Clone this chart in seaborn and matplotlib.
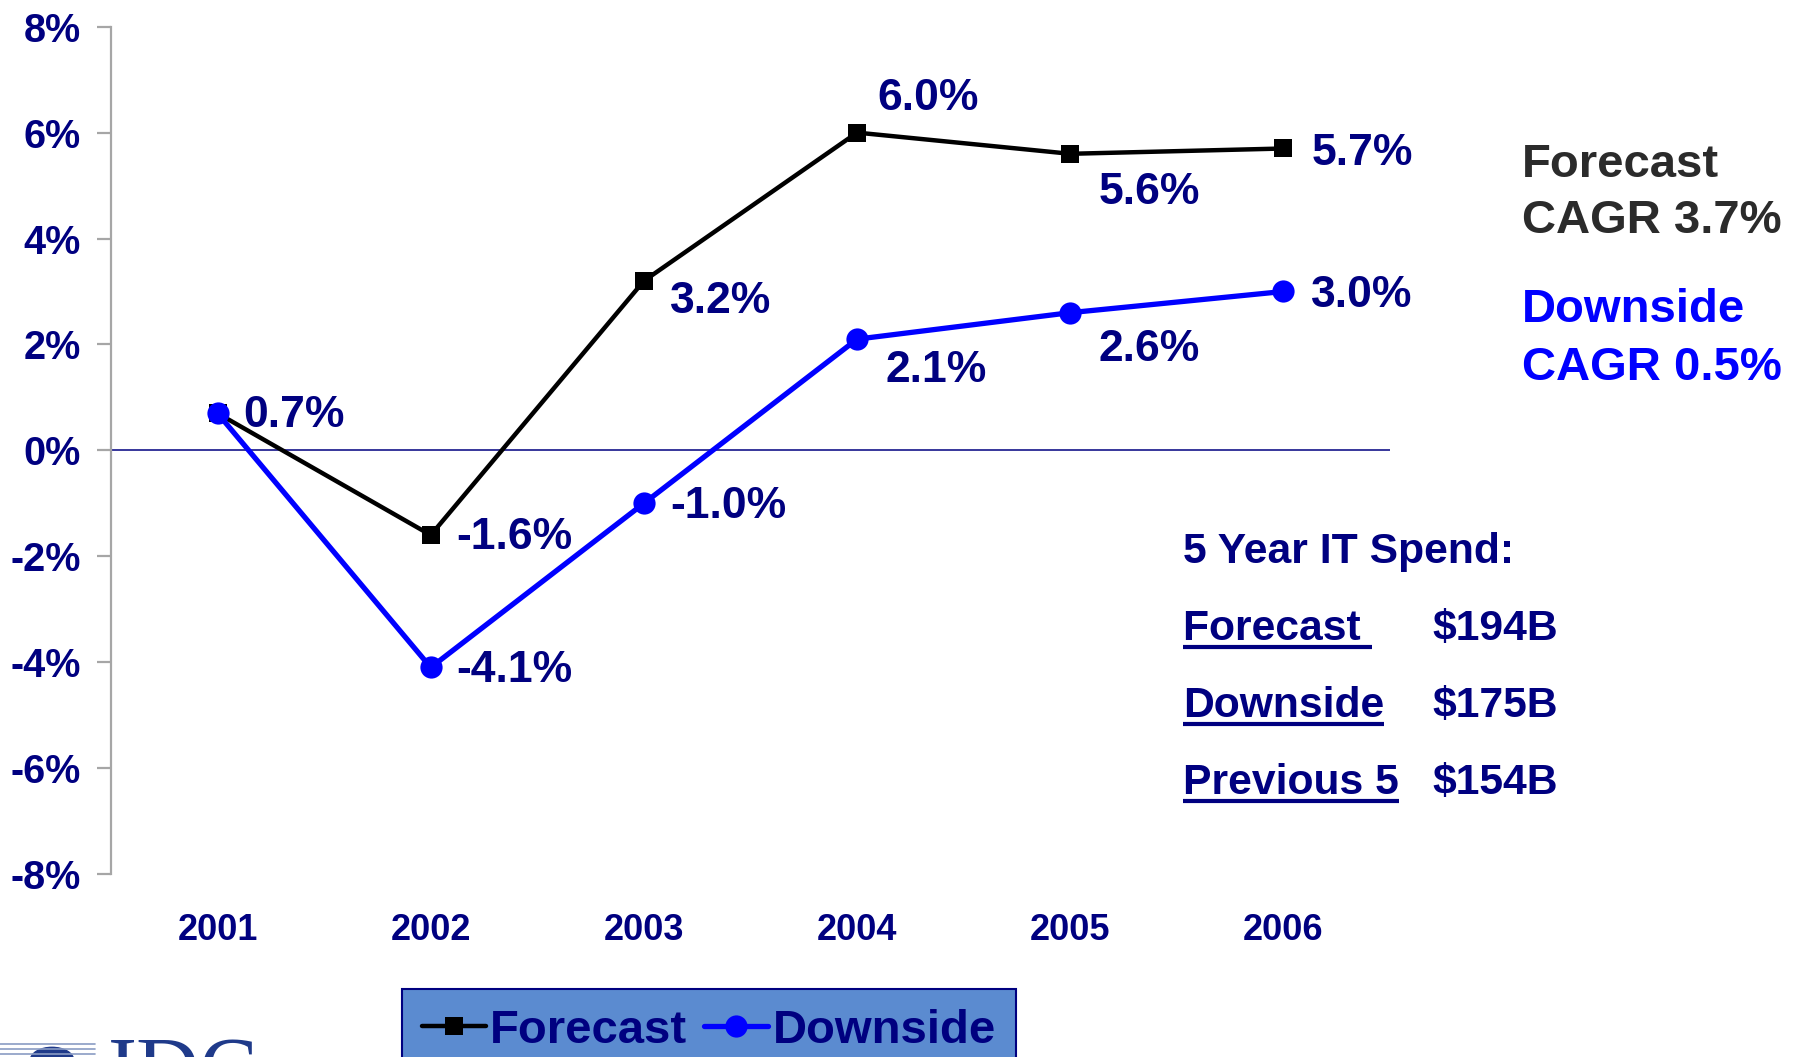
import matplotlib
matplotlib.use("Agg")
import matplotlib.pyplot as plt
from matplotlib.lines import Line2D
from matplotlib.patches import Wedge
import seaborn as sns
import pandas as pd

# ---- data -------------------------------------------------------------
years = ["2001", "2002", "2003", "2004", "2005", "2006"]
forecast = [0.7, -1.6, 3.2, 6.0, 5.6, 5.7]
downside = [0.7, -4.1, -1.0, 2.1, 2.6, 3.0]
yticks = [-8, -6, -4, -2, 0, 2, 4, 6, 8]

cagr_forecast = 3.7
cagr_downside = 0.5
spend_labels = ["Forecast ", "Downside", "Previous 5"]
spend_values = ["$194B", "$175B", "$154B"]

# label offsets in pixels (dx, dy) relative to each point
fc_offsets = [None, (26, -2), (26, -21), (20, 34), (28, -39), (28, -5)]
dn_offsets = [(26, -2), (26, -3), (26, -3), (28, -31), (28, -37), (28, -4)]

# ---- style ------------------------------------------------------------
W, H, DPI = 1799, 1057, 100
NAVY = "#000080"
BLUE = "#0000ff"

sns.set_style("white")
plt.rcParams["font.family"] = ["Liberation Sans", "DejaVu Sans"]
plt.rcParams["font.weight"] = "bold"


def fx(px):
    return px / W


def fy(py):
    return 1 - py / H


fig = plt.figure(figsize=(W / DPI, H / DPI), dpi=DPI)
ax = fig.add_axes([fx(111), fy(874), fx(1390) - fx(111), fy(26.7) - fy(874)])

df = pd.DataFrame({"year": years, "Forecast": forecast, "Downside": downside})

sns.lineplot(data=df, x="year", y="Forecast", ax=ax, color="black",
             marker="s", markersize=13.5, markeredgewidth=0, linewidth=3.2,
             label="Forecast", sort=False)
sns.lineplot(data=df, x="year", y="Downside", ax=ax, color=BLUE,
             marker="o", markersize=16, markeredgewidth=0, linewidth=3.8,
             label="Downside", sort=False)

ax.axhline(0, color=NAVY, lw=1.1, zorder=1)

ax.set_xlim(-0.5, len(years) - 0.5)
ax.set_ylim(-8, 8)
ax.set_yticks(yticks)
ax.set_yticklabels([f"{t}%" for t in yticks])
ax.set_xlabel("")
ax.set_ylabel("")

for side in ["top", "right", "bottom"]:
    ax.spines[side].set_visible(False)
ax.spines["left"].set_color("#a6a6a6")
ax.spines["left"].set_linewidth(1.6)

ax.tick_params(axis="y", which="both", length=10, width=1.6, color="#a6a6a6",
               pad=12, labelsize=28.5, labelcolor=NAVY, left=True, direction="out")
ax.tick_params(axis="x", length=0, pad=28, labelsize=26, labelcolor=NAVY)
for lab in ax.get_xticklabels() + ax.get_yticklabels():
    lab.set_fontweight("bold")

# value labels
for i, (v, off) in enumerate(zip(forecast, fc_offsets)):
    if off is None:
        continue
    ax.annotate(f"{v:.1f}%", xy=(i, v), xytext=off, textcoords="offset pixels",
                ha="left", va="center", fontsize=32, color=NAVY,
                fontweight="bold", zorder=5)
for i, (v, off) in enumerate(zip(downside, dn_offsets)):
    ax.annotate(f"{v:.1f}%", xy=(i, v), xytext=off, textcoords="offset pixels",
                ha="left", va="center", fontsize=32, color=NAVY,
                fontweight="bold", zorder=5)

# legend at the bottom
handles, labels = ax.get_legend_handles_labels()
ax.get_legend().remove()
leg = fig.legend(handles, labels, loc="upper left",
                 bbox_to_anchor=(fx(402), fy(989)), ncol=2,
                 fontsize=34, frameon=True, fancybox=False,
                 borderpad=0.42, borderaxespad=0, handlelength=1.35,
                 handletextpad=0.1, columnspacing=0.35)
frame = leg.get_frame()
frame.set_facecolor("#5b8bd0")
frame.set_edgecolor(NAVY)
frame.set_linewidth(1.5)
frame.set_alpha(1)
for t in leg.get_texts():
    t.set_color(NAVY)
    t.set_fontweight("bold")

# CAGR notes
fig.text(fx(1522), fy(177), "Forecast", fontsize=34, color="#2b2b2b",
         fontweight="bold", va="baseline", ha="left")
fig.text(fx(1522), fy(233), f"CAGR {cagr_forecast:.1f}%", fontsize=34,
         color="#2b2b2b", fontweight="bold", va="baseline", ha="left")
fig.text(fx(1522), fy(322), "Downside", fontsize=34, color=BLUE,
         fontweight="bold", va="baseline", ha="left")
fig.text(fx(1522), fy(380), f"CAGR {cagr_downside:.1f}%", fontsize=34,
         color=BLUE, fontweight="bold", va="baseline", ha="left")

# 5-year spend block
fig.text(fx(1183), fy(563), "5 Year IT Spend:", fontsize=30.7, color=NAVY,
         fontweight="bold", va="baseline", ha="left")
spend_texts = []
for k, (lab, val) in enumerate(zip(spend_labels, spend_values)):
    base = 640 + 77 * k
    t = fig.text(fx(1183), fy(base), lab, fontsize=30.7, color=NAVY,
                 fontweight="bold", va="baseline", ha="left")
    spend_texts.append((t, base))
    fig.text(fx(1432), fy(base), val, fontsize=30.7, color=NAVY,
             fontweight="bold", va="baseline", ha="left")

fig.canvas.draw()
renderer = fig.canvas.get_renderer()
for t, base in spend_texts:
    bb = t.get_window_extent(renderer)
    yline = fy(base + 7)
    fig.add_artist(Line2D([bb.x0 / W, bb.x1 / W], [yline, yline],
                          color=NAVY, lw=3.0, solid_capstyle="butt"))

# corner logo, cut by the bottom edge
for yy, col in [(1044, "#8a9cc4"), (1049, "#8a9cc4"), (1054, "#8a9cc4")]:
    fig.add_artist(Line2D([fx(0), fx(95)], [fy(yy), fy(yy)], color=col, lw=1.2))
fig.add_artist(Wedge((fx(52), fy(1060)), 0.012, 0, 180, color="#1f3a8a",
                     transform=fig.transFigure))
fig.text(fx(108), fy(1098), "IDC", fontsize=63, color="#1f3a8a",
         family=["Liberation Serif", "DejaVu Serif"], fontweight="normal",
         va="baseline", ha="left")

fig.savefig("out.png", dpi=DPI)
